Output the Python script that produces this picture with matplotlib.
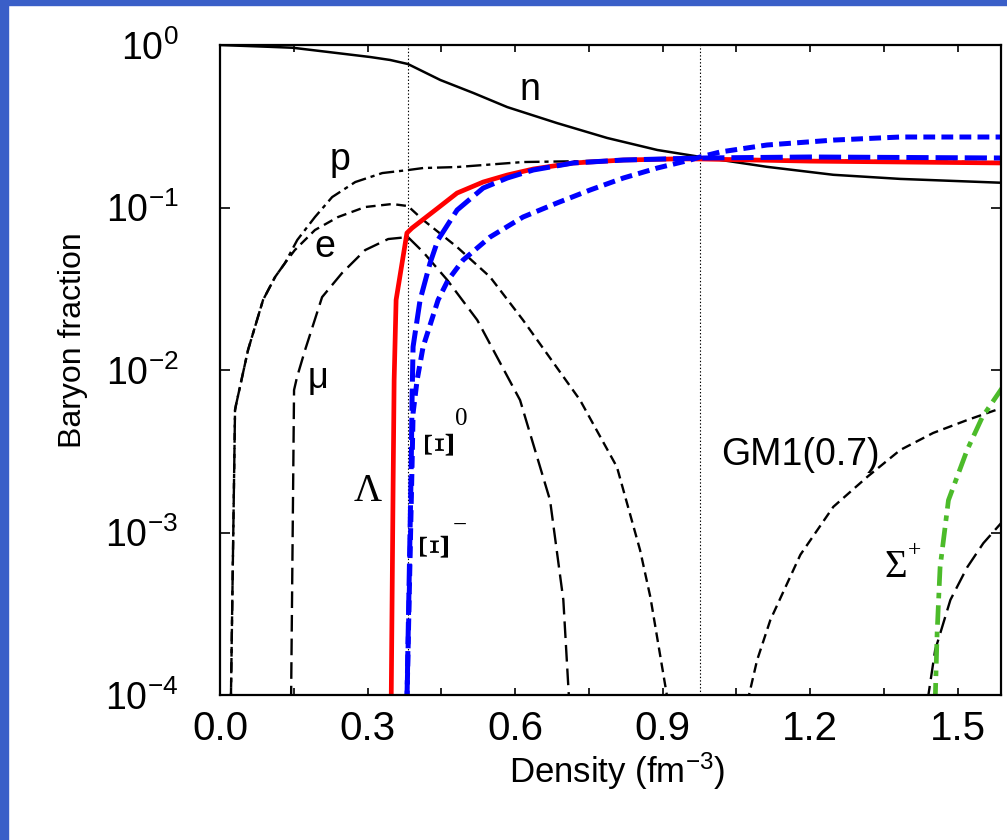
import numpy as np
import matplotlib
matplotlib.use("Agg")
import matplotlib.pyplot as plt
from matplotlib.patches import Rectangle
from matplotlib.ticker import NullLocator

n_x = [0.0, 0.1, 0.148, 0.305, 0.346, 0.382, 0.448, 0.515, 0.584, 0.685, 0.787, 0.889, 0.976, 1.112, 1.247, 1.383, 1.59]
n_y = [1.0, 0.975, 0.962, 0.844, 0.809, 0.764, 0.609, 0.507, 0.415, 0.331, 0.268, 0.226, 0.205, 0.178, 0.159, 0.150, 0.142]

p_x = [0.022, 0.0305, 0.0325, 0.057, 0.0875, 0.112, 0.132, 0.157, 0.193, 0.228, 0.275, 0.330, 0.382, 0.413, 0.482, 0.616, 0.738, 0.976, 1.2, 1.59]
p_y = [9e-5, 0.00567, 0.0061, 0.0133, 0.027, 0.0374, 0.0455, 0.0631, 0.0874, 0.116, 0.1435, 0.163, 0.170, 0.175, 0.1775, 0.1905, 0.193, 0.200, 0.195, 0.19]

e_x = [0.022, 0.0305, 0.0325, 0.057, 0.0875, 0.112, 0.132, 0.152, 0.193, 0.24, 0.295, 0.35, 0.382, 0.413, 0.482, 0.549, 0.616, 0.732, 0.807, 0.854, 0.875, 0.911]
e_y = [9e-5, 0.00567, 0.0061, 0.0133, 0.027, 0.0374, 0.0455, 0.0547, 0.0727, 0.0874, 0.1007, 0.1051, 0.1021, 0.0838, 0.0571, 0.0374, 0.0203, 0.00653, 0.00253, 7.8e-4, 4.0e-4, 9e-5]
e_high_x = [1.072, 1.092, 1.119, 1.18, 1.247, 1.316, 1.383, 1.45, 1.519, 1.59]
e_high_y = [9e-5, 1.64e-4, 2.9e-4, 7.3e-4, 1.44e-3, 2.2e-3, 3.22e-3, 4.1e-3, 4.92e-3, 5.85e-3]

mu_x = [0.1444, 0.1505, 0.1566, 0.173, 0.2075, 0.248, 0.295, 0.342, 0.382, 0.413, 0.462, 0.523, 0.61, 0.671, 0.698, 0.71]
mu_y = [9e-5, 0.00753, 0.00906, 0.0133, 0.0281, 0.0395, 0.0547, 0.064, 0.0658, 0.0532, 0.0358, 0.0203, 0.00653, 0.00158, 3.85e-4, 9e-5]
mu_high_x = [1.438, 1.454, 1.485, 1.519, 1.552, 1.59]
mu_high_y = [9e-5, 1.89e-4, 3.85e-4, 6.1e-4, 8.6e-4, 1.16e-3]

lam_x = [0.348, 0.352, 0.354, 0.358, 0.380, 0.3905, 0.443, 0.482, 0.535, 0.584, 0.637, 0.718, 0.82, 0.921, 0.976, 1.2, 1.59]
lam_y = [9e-5, 0.0021, 0.00868, 0.027, 0.0697, 0.0748, 0.0993, 0.1228, 0.1435, 0.1585, 0.1726, 0.1879, 0.196, 0.199, 0.199, 0.193, 0.188]

xim_x = [0.380, 0.3885, 0.3905, 0.3925, 0.4068, 0.427, 0.443, 0.482, 0.535, 0.584, 0.637, 0.718, 0.82, 0.976, 1.2, 1.59]
xim_y = [9e-5, 0.00232, 0.00682, 0.0139, 0.027, 0.0455, 0.0631, 0.0965, 0.1318, 0.1519, 0.1702, 0.188, 0.196, 0.2017, 0.2046, 0.2017]

xi0_x = [0.380, 0.3905, 0.3925, 0.4007, 0.4129, 0.4434, 0.4637, 0.4942, 0.549, 0.616, 0.685, 0.7525, 0.82, 0.889, 0.956, 0.976, 1.017, 1.112, 1.247, 1.383, 1.59]
xi0_y = [9e-5, 0.00268, 0.00543, 0.00868, 0.0139, 0.027, 0.0358, 0.0475, 0.0658, 0.0874, 0.1066, 0.1282, 0.1519, 0.175, 0.196, 0.2046, 0.2197, 0.2425, 0.26, 0.2716, 0.2716]

sig_x = [1.454, 1.458, 1.464, 1.481, 1.519, 1.55, 1.59]
sig_y = [9e-5, 2.41e-4, 6.1e-4, 1.58e-3, 3.22e-3, 5.14e-3, 7.74e-3]

thresholds = [0.383, 0.976]

x_ticks = [0.0, 0.3, 0.6, 0.9, 1.2, 1.5]
x_minor = [0.15, 0.45, 0.75, 1.05, 1.35]
y_ticks = [1e-4, 1e-3, 1e-2, 1e-1, 1.0]
y_labels = [r"$10^{-4}$", r"$10^{-3}$", r"$10^{-2}$", r"$10^{-1}$", r"$10^{0}$"]

plt.rcParams["font.family"] = "Liberation Sans"
plt.rcParams["mathtext.fontset"] = "custom"
plt.rcParams["mathtext.rm"] = "Liberation Sans"
plt.rcParams["mathtext.it"] = "Liberation Sans:italic"
plt.rcParams["mathtext.bf"] = "Liberation Sans:bold"
plt.rcParams["lines.scale_dashes"] = False

fig = plt.figure(figsize=(10.07, 8.4), dpi=100)
ax = fig.add_axes([0.2185, 0.1726, 0.7756, 0.7738])

# blue frame edges of the slide
fig.patches.append(Rectangle((0, 0), 8 / 1007, 1, transform=fig.transFigure, color="#3a5fc8"))
fig.patches.append(Rectangle((0, 1 - 5 / 840), 1, 5 / 840, transform=fig.transFigure, color="#3a5fc8"))

for v in thresholds:
    ax.axvline(v, color="k", lw=0.8, ls=(0, (1, 1.5)))

ax.plot(n_x, n_y, color="k", lw=1.8)
ax.plot(p_x, p_y, color="k", lw=1.7, dashes=(11, 3.5, 3, 3.5))
ax.plot(e_x, e_y, color="k", lw=1.7, dashes=(7, 4))
ax.plot(e_high_x, e_high_y, color="k", lw=1.7, dashes=(7, 4))
ax.plot(mu_x, mu_y, color="k", lw=1.7, dashes=(12, 5))
ax.plot(mu_high_x, mu_high_y, color="k", lw=1.7, dashes=(12, 5))
ax.plot(lam_x, lam_y, color="#ff0000", lw=3.4)
ax.plot(xim_x, xim_y, color="#0000ff", lw=3.6, dashes=(16, 5))
ax.plot(xi0_x, xi0_y, color="#0000ff", lw=3.6, dashes=(8.5, 4.5))
ax.plot(sig_x, sig_y, color="#4cbb2a", lw=3.4, dashes=(14, 5, 4, 5))

ax.set_yscale("log")
ax.set_xlim(0, 1.588)
ax.set_ylim(1e-4, 1.0)

ax.set_xticks(x_ticks)
ax.set_xticklabels([f"{t:.1f}" for t in x_ticks])
ax.set_xticks(x_minor, minor=True)
ax.set_yticks(y_ticks)
ax.set_yticklabels(y_labels)
ax.yaxis.set_minor_locator(NullLocator())
ax.tick_params(axis="x", which="both", direction="in", top=True, length=5, width=1.2, labelsize=29, pad=11)
ax.tick_params(axis="y", which="both", direction="in", right=True, length=7, width=1.2, labelsize=27, pad=30)
for s in ax.spines.values():
    s.set_linewidth(1.6)

ax.set_xlabel("Density (fm$^{-3}$)", fontsize=25)
ax.xaxis.set_label_coords(0.508, -0.086)
ax.set_ylabel("Baryon fraction", fontsize=23)
ax.yaxis.set_label_coords(-0.169, 0.546)

# curve labels
ax.text(0.63, 0.528, "n", fontsize=27, ha="center", va="center")
ax.text(0.244, 0.196, "p", fontsize=27, ha="center", va="center")
ax.text(0.2135, 0.057, "e", fontsize=27, ha="center", va="center")
ax.text(0.199, 0.0089, "μ", fontsize=26, ha="center", va="center")
ax.text(0.301, 0.00178, "Λ", family="Liberation Serif", fontsize=28, ha="center", va="center")
ax.text(0.4495, 0.0036, "Ξ", family="Liberation Serif", fontsize=30, rotation=90, ha="center", va="center")
ax.text(0.49, 0.0050, "0", family="Liberation Serif", fontsize=18, ha="center", va="center")
ax.text(0.439, 8.6e-4, "Ξ", family="Liberation Serif", fontsize=30, rotation=90, ha="center", va="center")
ax.text(0.487, 1.1e-3, "−", family="Liberation Serif", fontsize=18, ha="center", va="center")
ax.text(1.18, 0.003, "GM1(0.7)", fontsize=27, ha="center", va="center")
ax.text(1.375, 6.13e-4, "Σ", family="Liberation Serif", fontsize=28, ha="center", va="center")
ax.text(1.412, 7.8e-4, "+", family="Liberation Serif", fontsize=17, ha="center", va="center")

fig.savefig("out.png", dpi=100)
